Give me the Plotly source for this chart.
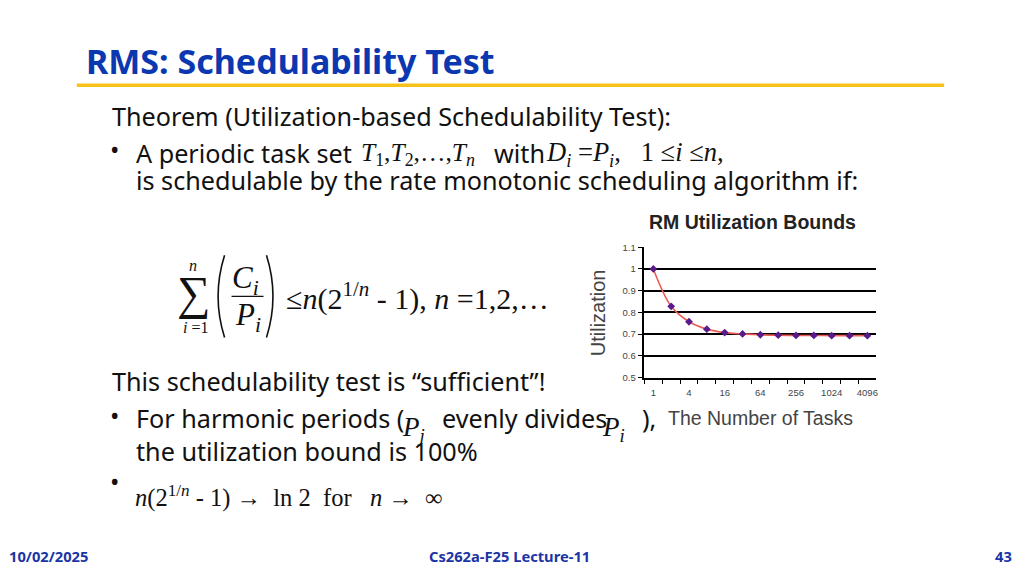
import plotly.graph_objects as go

# dados do grafico "RM Utilization Bounds"
TAREFAS = [1, 2, 4, 8, 16, 32, 64, 128, 256, 512, 1024, 2048, 4096]
UTILIZACAO = [1.0, 0.828, 0.757, 0.723, 0.707, 0.701, 0.697, 0.695, 0.694, 0.694, 0.693, 0.693, 0.693]
ROTULOS_X = ["1", "", "4", "", "16", "", "64", "", "256", "", "1024", "", "4096"]
TICKS_Y = [0.5, 0.6, 0.7, 0.8, 0.9, 1.0, 1.1]
ROTULOS_Y = ["0.5", "0.6", "0.7", "0.8", "0.9", "1", "1.1"]
GRADE_Y = [0.6, 0.7, 0.8, 0.9, 1.0]

# figura do tamanho da janela menos a margem do body;
# na captura a pagina sai um pouco achatada na vertical
W, H = 1008, 559
MX = 8
AY, BY = 0.978, 15.3

SERIF = "Liberation Serif"
SANS = "Noto Sans"
ARIAL = "Liberation Sans"
AZUL = "#0b38b0"
RODAPE = "#1b34a6"
CORPO = 25.2


def px(x, y):
    return (x - MX) / W, 1 - (y - BY) / AY / H


def texto(fig, x, y, s, size=CORPO, font=SANS, color="#111111", xanchor="left", bold=False, angle=0):
    if xanchor == "left":
        x -= 2
    xp, yp = px(x, y)
    if bold:
        s = "<b>" + s + "</b>"
    fig.add_annotation(x=xp, y=yp, xref="paper", yref="paper", text=s, showarrow=False,
                       xanchor=xanchor, yanchor="middle", textangle=angle,
                       font=dict(family=font, size=size, color=color))


def linha(fig, x0, y0, x1, y1, color, width):
    a0, b0 = px(x0, y0)
    a1, b1 = px(x1, y1)
    fig.add_shape(type="line", xref="paper", yref="paper", x0=a0, y0=b0, x1=a1, y1=b1,
                  line=dict(color=color, width=width))


def parentese(fig, xa, ya, xc, yc, xb, yb):
    a0, b0 = px(xa, ya)
    c0, c1 = px(xc, yc)
    a1, b1 = px(xb, yb)
    fig.add_shape(type="path", xref="paper", yref="paper",
                  path=f"M {a0} {b0} Q {c0} {c1} {a1} {b1}",
                  line=dict(color="#111111", width=1.6))


categorias = [str(t) for t in TAREFAS]

fig = go.Figure()
fig.add_trace(go.Scatter(
    x=categorias, y=UTILIZACAO, mode="lines+markers",
    line=dict(color="#ec5d55", width=1.6, shape="spline", smoothing=1.0),
    marker=dict(color="#5a1a8c", size=6, symbol="diamond"),
    showlegend=False, hoverinfo="x+y"))
# copia invisivel so para o eixo dos rotulos existir
fig.add_trace(go.Scatter(
    x=categorias, y=UTILIZACAO, mode="lines", yaxis="y2", opacity=0,
    showlegend=False, hoverinfo="skip"))

x0, _ = px(645.7, 0)
x1, _ = px(878, 0)
_, y0 = px(0, 378)
_, y1 = px(0, 248)

fonte_ticks = dict(family=ARIAL, size=9.5, color="#444444")
fig.update_layout(
    width=W, height=H, margin=dict(l=0, r=0, t=0, b=0),
    paper_bgcolor="white", plot_bgcolor="white",
    xaxis=dict(domain=[x0, x1], type="category", range=[-0.5, 12.5],
               tickson="boundaries", tickmode="array",
               tickvals=categorias, ticktext=ROTULOS_X, tickangle=0,
               ticks="outside", ticklen=5, tickcolor="black", showgrid=False,
               showline=True, linecolor="black", linewidth=1.5,
               tickfont=fonte_ticks, ticklabelstandoff=5),
    # eixo base: so as linhas de grade
    yaxis=dict(domain=[y0, y1], range=[0.5, 1.1], tickmode="array", tickvals=GRADE_Y,
               showticklabels=False, ticks="", showgrid=True, gridcolor="black",
               gridwidth=1.7, zeroline=False, showline=False),
    # eixo por cima: linha, marcas e rotulos
    yaxis2=dict(overlaying="y", anchor="x", side="left", range=[0.5, 1.1], tickmode="array",
                tickvals=TICKS_Y, ticktext=ROTULOS_Y, showgrid=False, zeroline=False,
                ticks="outside", ticklen=5, tickcolor="black",
                showline=True, linecolor="black", linewidth=1.5,
                tickfont=fonte_ticks),
)

# textos do grafico
texto(fig, 754, 223, "RM Utilization Bounds", size=19.5, font=ARIAL, color="#222222",
      xanchor="center", bold=True)
texto(fig, 600, 313, "Utilization", size=20, font=ARIAL, color="#444444",
      xanchor="center", angle=-90)
texto(fig, 762, 418, "The Number of Tasks", size=19.5, font=ARIAL, color="#444444",
      xanchor="center")

# titulo do slide
texto(fig, 86, 62, "RMS: Schedulability Test", size=34, color=AZUL, bold=True)
linha(fig, 77, 86.5, 946, 86.5, "#f6c21a", 3.5)

texto(fig, 112, 117, "Theorem (Utilization-based Schedulability Test):")
texto(fig, 115, 150, "•", size=25, xanchor="center")
texto(fig, 136, 154, "A periodic task set")
texto(fig, 362, 155, "<i>T</i><sub>1</sub>,<i>T</i><sub>2</sub>,…,<i>T</i><sub><i>n</i></sub>",
      size=25.5, font=SERIF)
texto(fig, 495, 154, "with")
texto(fig, 547, 155, "<i>D</i><sub><i>i</i></sub>\u00a0=<i>P</i><sub><i>i</i></sub>,\u00a0\u00a0 1\u00a0≤<i>i</i>\u00a0≤<i>n</i>,",
      size=26.5, font=SERIF)
texto(fig, 136, 181, "is schedulable by the rate monotonic scheduling algorithm if:")

# formula principal
texto(fig, 194, 294, "∑", size=47, font=SERIF, xanchor="center")
texto(fig, 193, 266, "<i>n</i>", size=16, font=SERIF, xanchor="center")
texto(fig, 196, 328, "<i>i</i>\u00a0=1", size=16, font=SERIF, xanchor="center")
parentese(fig, 225, 256, 212, 297, 225, 338)
parentese(fig, 267, 256, 280, 297, 267, 338)
texto(fig, 246, 281, "<i>C</i><sub><i>i</i></sub>", size=31, font=SERIF, xanchor="center")
texto(fig, 248, 318, "<i>P</i><sub><i>i</i></sub>", size=31, font=SERIF, xanchor="center")
linha(fig, 232, 297, 264, 297, "#111111", 1.3)
texto(fig, 287, 297, "≤<i>n</i>(2<sup>1/<i>n</i></sup>\u00a0- 1), <i>n</i>\u00a0=1,2,…", size=30, font=SERIF)

texto(fig, 112, 381, "This schedulability test is “sufficient”!")
texto(fig, 115, 415, "•", size=25, xanchor="center")
texto(fig, 136, 418, "For harmonic periods (")
texto(fig, 403, 429, "<i>P</i><sub><i>j</i></sub>", size=27, font=SERIF)
texto(fig, 443, 418, "evenly divides")
texto(fig, 603, 429, "<i>P</i><sub><i>i</i></sub>", size=27, font=SERIF)
texto(fig, 643, 418, "),")
texto(fig, 136, 451, "the utilization bound is 100%")
texto(fig, 115, 481, "•", size=25, xanchor="center")
texto(fig, 135, 497, "<i>n</i>(2<sup>1/<i>n</i></sup>\u00a0- 1)\u00a0→\u00a0 ln 2 \u00a0for\u00a0\u00a0 <i>n</i>\u00a0→\u00a0 ∞",
      size=24.5, font=SERIF)

# rodape (o mais baixo que cabe na figura)
texto(fig, 9, 556, "10/02/2025", size=14.7, color=RODAPE, bold=True)
texto(fig, 510, 556, "Cs262a-F25 Lecture-11", size=14.7, color=RODAPE, xanchor="center", bold=True)
texto(fig, 1016, 556, "43", size=14.7, color=RODAPE, xanchor="right", bold=True)

fig.write_html("out.html")
